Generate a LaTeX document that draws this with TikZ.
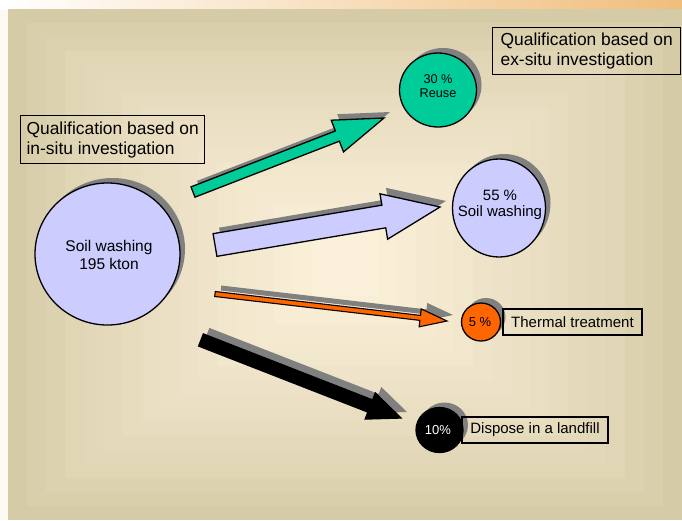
\documentclass[tikz,border=0pt]{standalone}
\usepackage{fontspec}
\setmainfont{Liberation Sans}
\usetikzlibrary{calc,shapes.geometric,shadows}
\definecolor{lav}{HTML}{CCCCFF}
\definecolor{reuse}{HTML}{00CC99}
\definecolor{hot}{HTML}{FF6600}
\definecolor{shgray}{HTML}{808080}
\definecolor{bgout}{HTML}{D6CBA7}
\definecolor{bgin}{HTML}{FBF0D9}
\definecolor{barR}{HTML}{F0BE7C}
\definecolor{paper}{HTML}{FDFAF3}
\newcommand\blockarrow[6]{%
  \coordinate (#1b) at ($(#2)!#5!(#1)$);
  \draw[#6] ($(#1)!#3!90:(#2)$) -- ($(#1b)!#3!90:(#2)$) -- ($(#1b)!#4!90:(#2)$) -- (#2)
    -- ($(#1b)!#4!-90:(#2)$) -- ($(#1b)!#3!-90:(#2)$) -- ($(#1)!#3!-90:(#2)$) -- cycle;
}
\tikzset{
  shad/.style={drop shadow={shadow xshift=6pt, shadow yshift=6pt, fill=shgray, opacity=1}},
  cshad/.style={drop shadow={shadow xshift=5pt, shadow yshift=5pt, fill=shgray, opacity=1}},
  blk/.style={draw=black, line width=1.3pt, line join=miter, shad},
  ell/.style={ellipse, draw=black, line width=1.3pt, inner sep=0pt, cshad},
  ctext/.style={align=center, inner sep=0pt},
  box/.style={draw=black, line width=1.4pt, inner ysep=2pt},
}
\begin{document}
\begin{tikzpicture}[x=1pt,y=-1pt]
\useasboundingbox (0,0) rectangle (682,520);
% background
\fill[paper] (0,0) rectangle (682,520);
\shade[left color=white, right color=barR] (0,0) rectangle (682,9);
\foreach \i in {0,...,16}{
  \pgfmathsetmacro\p{100*(\i/16)^0.8}
  \fill[bgin!\p!bgout] (8+19*\i, 9+14*\i) rectangle (682-19*\i, 520-14*\i);
}
% arrow end points
\coordinate (gt) at (193,192);   \coordinate (gh) at (384,118);
\coordinate (lt) at (215,245);   \coordinate (lh) at (440,207);
\coordinate (ot) at (215,294);   \coordinate (oh) at (447,321);
\coordinate (bt) at (201,340);   \coordinate (bh) at (401,418);
\blockarrow{gt}{gh}{5.5pt}{17pt}{50pt}{blk, fill=reuse}
\blockarrow{lt}{lh}{11.5pt}{23pt}{57pt}{blk, fill=lav}
\blockarrow{ot}{oh}{2.5pt}{9pt}{27pt}{blk, line width=1.1pt, fill=hot}
\blockarrow{bt}{bh}{6.5pt}{14pt}{33pt}{blk, fill=black}
% circles
\node[ell, fill=lav, minimum width=145pt, minimum height=142pt] (src) at (107.5,254) {};
\node[ctext, font=\fontsize{15.5}{17.5}\selectfont] (srctxt) at (109,255) {Soil washing\\195 kton};
\node[ell, fill=reuse, minimum width=77pt, minimum height=74pt] (reuse) at (438,90) {};
\node[ctext, font=\fontsize{12.7}{14}\selectfont] (reusetxt) at (438,86) {30 \%\\Reuse};
\node[ell, fill=lav, minimum width=93pt, minimum height=98pt] (wash) at (499,208) {};
\node[ctext, font=\fontsize{15}{16.5}\selectfont] (washtxt) at (500,205) {55 \%\\Soil washing};
\node[ell, fill=hot, minimum width=39pt, minimum height=38pt] (therm) at (481,322) {};
\node[ctext, font=\fontsize{13}{14}\selectfont] (thermtxt) at (480,322) {5 \%};
\node[ell, fill=black, minimum width=47pt, minimum height=45pt] (land) at (439.5,430) {};
\node[ctext, text=white, font=\fontsize{13}{14}\selectfont] (landtxt) at (438,430) {10\%};
% text boxes
\node[box, anchor=north west, minimum width=184pt, minimum height=48pt,
      align=left, font=\fontsize{17.4}{20}\selectfont] (insitu) at (20,115)
      {Qualification based on\\in-situ investigation};
\node[box, anchor=north west, minimum width=188pt, minimum height=47pt,
      align=left, font=\fontsize{17.4}{20}\selectfont] (exsitu) at (492,27)
      {Qualification based on\\ex-situ investigation};
\node[box, minimum width=139pt, minimum height=26pt, inner xsep=0pt,
      font=\fontsize{15}{17}\selectfont] (thermlbl) at (572.5,322) {Thermal treatment};
\node[box, minimum width=146pt, minimum height=26pt, inner xsep=0pt,
      font=\fontsize{15}{17}\selectfont] (landlbl) at (535,430) {Dispose in a landfill};
\end{tikzpicture}
\end{document}
